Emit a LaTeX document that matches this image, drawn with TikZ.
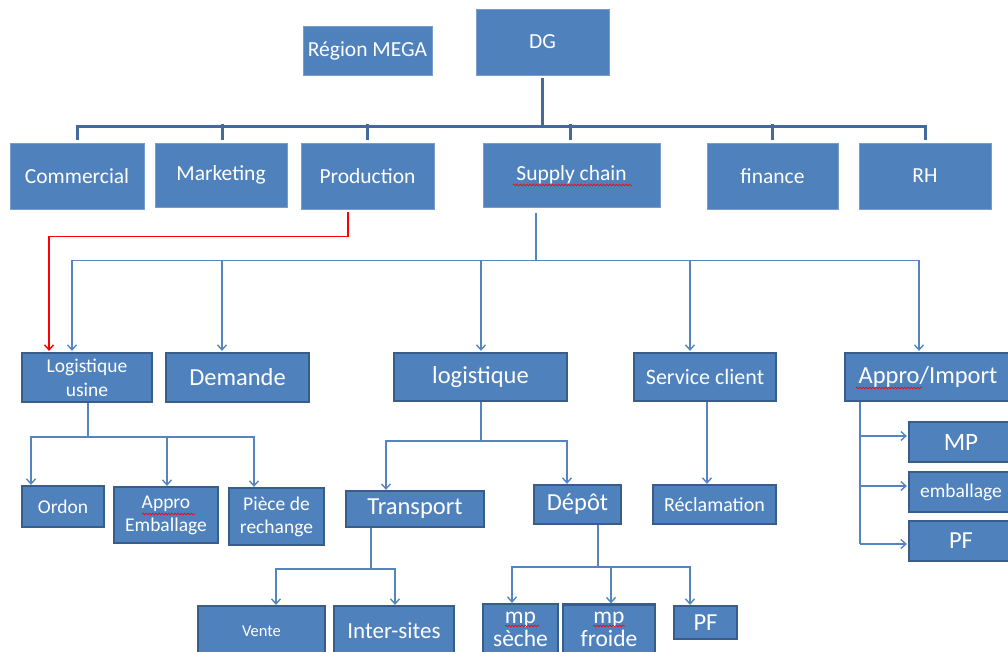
\documentclass[tikz,border=0pt]{standalone}
\usepackage{fontspec}
\setmainfont{Carlito}
\usetikzlibrary{arrows.meta,calc,decorations.pathmorphing}
\definecolor{boxblue}{HTML}{4F81BD}
\definecolor{boxedge}{HTML}{385D8A}
\definecolor{lightedge}{HTML}{7A9CCB}
\definecolor{linkblue}{HTML}{5585C0}
\definecolor{busblue}{HTML}{44699A}
\begin{document}
\begin{tikzpicture}[x=1pt,y=-1pt,
  fs/.style 2 args={font=\fontsize{#1}{#2}\selectfont},
  unit/.style={fill=boxblue, text=white, inner sep=0pt, align=center, fs={21.5}{26}},
  topbox/.style={unit, draw=lightedge, line width=0.8pt},
  subbox/.style={unit, draw=boxedge, line width=2.2pt},
  bus/.style={draw=busblue, line width=3pt},
  link/.style={draw=linkblue, line width=1.4pt},
  arrowlink/.style={link, -{Straight Barb[length=5pt,width=9pt]}},
  redlink/.style={draw=red, line width=1.4pt, -{Straight Barb[length=5pt,width=9pt]}},
  spell/.style={draw=red, line width=0.6pt, decorate, decoration={snake,amplitude=0.9pt,segment length=3.2pt}}]
\useasboundingbox (0,0) rectangle (1008,652);
\clip (0,0) rectangle (1008,652);

% top level
\node[topbox, minimum width=129pt, minimum height=49pt] (mega) at (367.5,50.5) {Région MEGA};
\node[topbox, minimum width=133pt, minimum height=66pt] (dg) at (542.5,42) {DG};
\node[topbox, minimum width=134pt, minimum height=66pt] (comm) at (77,176) {Commercial};
\node[topbox, minimum width=132pt, minimum height=64pt] (mkt) at (221,175) {Marketing};
\node[topbox, minimum width=133pt, minimum height=66pt] (prod) at (367.5,176) {Production};
\node[topbox, minimum width=177pt, minimum height=64pt] (sc) at (571.5,175) {Supply chain};
\node[topbox, minimum width=131pt, minimum height=66pt] (fin) at (772.5,176) {finance};
\node[topbox, minimum width=132pt, minimum height=66pt] (rh) at (925,176) {RH};

% supply chain departments
\node[subbox, fs={19.5}{24}, minimum width=130pt, minimum height=49pt] (lu) at (87,377.5) {Logistique\\usine};
\node[subbox, fs={24.5}{28}, minimum width=143pt, minimum height=49pt] (dem) at (237.5,377.5) {Demande};
\node[subbox, fs={24.5}{28}, minimum width=173pt, minimum height=48pt] (log) at (480.5,377) {logistique};
\node[subbox, fs={22}{26}, minimum width=142pt, minimum height=48pt] (svc) at (705,377) {Service client};
\node[subbox, fs={24.5}{28}, minimum width=166pt, minimum height=48pt] (appro) at (928,377) {Appro/Import};

% third level
\node[subbox, fs={19.5}{24}, minimum width=82pt, minimum height=41pt] (ordon) at (63,506.5) {Ordon};
\node[subbox, fs={19.5}{23}, minimum width=104pt, minimum height=56pt] (ae) at (166,515) {Appro\\Emballage};
\node[subbox, fs={19.5}{23}, minimum width=95pt, minimum height=57pt] (pdr) at (276.5,516.5) {Pièce de\\rechange};
\node[subbox, fs={24.5}{28}, minimum width=138pt, minimum height=36pt] (trans) at (415,509) {Transport};
\node[subbox, fs={24.5}{28}, minimum width=87pt, minimum height=39pt] (depot) at (577.5,504.5) {Dépôt};
\node[subbox, fs={20}{24}, minimum width=123pt, minimum height=39pt] (recl) at (714.5,504.5) {Réclamation};
\node[subbox, fs={25}{28}, minimum width=104pt, minimum height=40pt] (mp) at (961,442) {MP};
\node[subbox, fs={19.5}{24}, minimum width=104pt, minimum height=40pt] (emb) at (961,492) {emballage};
\node[subbox, fs={24.5}{28}, minimum width=104pt, minimum height=40pt] (pf2) at (961,541) {PF};

% fourth level
\node[subbox, fs={16.5}{20}, minimum width=127pt, minimum height=50pt] (vente) at (261.5,631) {Vente};
\node[subbox, fs={23}{27}, minimum width=120pt, minimum height=50pt] (inter) at (394,631) {Inter-sites};
\node[subbox, fs={23.5}{23}, minimum width=75pt, minimum height=50pt] (mps) at (520.5,629) {mp\\sèche};
\node[subbox, fs={23.5}{23}, minimum width=92pt, minimum height=50pt] (mpf) at (609,629.5) {mp\\froide};
\node[subbox, fs={24.5}{28}, minimum width=63pt, minimum height=33pt] (pf3) at (705.5,622.5) {PF};

% DG to the departments
\draw[bus] ([yshift=-3pt]dg.south) -- ($(dg.south)+(0,52)$);
\draw[bus] ([yshift=3pt]comm.north) |- ($(rh.north)+(0,-16)$) -- ([yshift=3pt]rh.north);
\foreach \n/\dx in {mkt/1, prod/0, sc/-1.5, fin/0}
  \draw[bus] ([xshift=\dx pt,yshift=3pt]\n.north) -- ++(0,-16);

% supply chain
\coordinate (scout) at ([xshift=-35.5pt,yshift=-6pt]sc.south);
\draw[link] (scout) -- ++(0,47);
\foreach \n/\dx in {lu/-15, dem/-15.5, log/0.5, svc/-15, appro/-9}
  \draw[arrowlink] ($(scout)+(0,47)$) -| ([xshift=\dx pt,yshift=1pt]\n.north);

% production feeds the plant logistics
\draw[redlink] ([xshift=-19.5pt,yshift=-3pt]prod.south) -- ++(0,24) -| ([xshift=-38pt,yshift=1pt]lu.north);

% plant logistics
\coordinate (luj) at ($(lu.south)+(1,34)$);
\draw[link] ([xshift=1pt]lu.south) -- (luj);
\draw[arrowlink] (luj) -| ([xshift=-32pt]ordon.north);
\draw[arrowlink] (luj) -| ([xshift=1pt]ae.north);
\draw[arrowlink] (luj) -| ([xshift=-22.5pt]pdr.north);

% logistics
\coordinate (logj) at ($(log.south)+(0.5,39)$);
\draw[link] ([xshift=0.5pt]log.south) -- (logj);
\draw[arrowlink] (logj) -| ([xshift=-29pt]trans.north);
\draw[arrowlink] (logj) -| ([xshift=-10.5pt]depot.north);

% customer service
\draw[arrowlink] ([xshift=2pt]svc.south) -- ([xshift=-7.5pt]recl.north);

% procurement / import
\coordinate (apx) at ([xshift=16pt]appro.south west);
\coordinate (mpin) at ($(mp.west)+(-1,-6)$);
\coordinate (embin) at ($(emb.west)+(-1,-6)$);
\coordinate (pfin) at ($(pf2.west)+(-1,3)$);
\draw[link] (apx) -- (apx |- pfin);
\draw[arrowlink] (apx |- mpin) -- (mpin);
\draw[arrowlink] (apx |- embin) -- (embin);
\draw[arrowlink] (apx |- pfin) -- (pfin);

% transport
\coordinate (trj) at ($(trans.south)+(-44,41)$);
\draw[link] ([xshift=-44pt]trans.south) -- (trj);
\draw[arrowlink] (trj) -| ([xshift=14.5pt]vente.north);
\draw[arrowlink] (trj) -| ([xshift=1pt]inter.north);

% depot
\coordinate (dpj) at ($(depot.south)+(20.5,42)$);
\draw[link] ([xshift=20.5pt]depot.south) -- (dpj);
\draw[arrowlink] (dpj) -| ([xshift=-8.5pt]mps.north);
\draw[arrowlink] (dpj) -| ([xshift=2pt]mpf.north);
\draw[arrowlink] (dpj) -| ([xshift=-15.5pt]pf3.north);

% spelling marks under words
\draw[spell] (513,185) -- (632,185);
\draw[spell] (856,388) -- (922,388);
\draw[spell] (142,514) -- (195,514);
\draw[spell] (505,626) -- (539,626);
\draw[spell] (593,626) -- (625,626);
\end{tikzpicture}
\end{document}
